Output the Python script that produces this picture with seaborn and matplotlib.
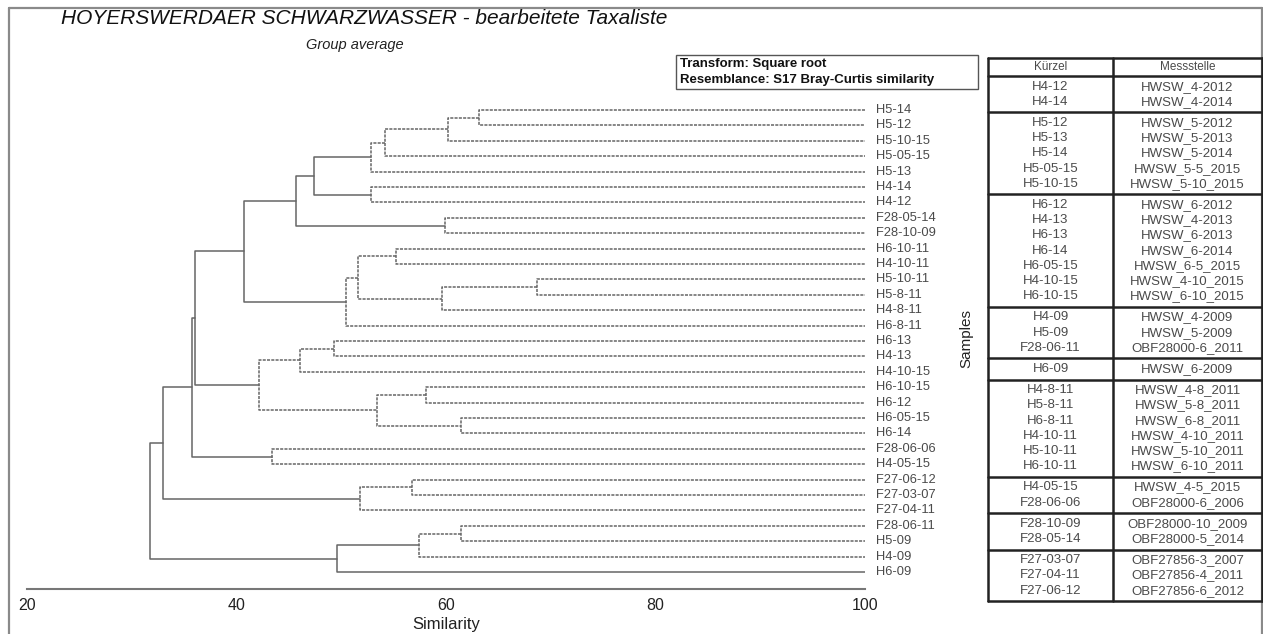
import matplotlib.pyplot as plt
import seaborn as sns
import pandas as pd
from matplotlib.patches import Rectangle

W, H = 1263, 634
LINE_COLOR = '#666666'
TEXT_COLOR = '#4a4a4a'

LEAVES = ['H5-14', 'H5-12', 'H5-10-15', 'H5-05-15', 'H5-13', 'H4-14', 'H4-12',
          'F28-05-14', 'F28-10-09', 'H6-10-11', 'H4-10-11', 'H5-10-11', 'H5-8-11',
          'H4-8-11', 'H6-8-11', 'H6-13', 'H4-13', 'H4-10-15', 'H6-10-15', 'H6-12',
          'H6-05-15', 'H6-14', 'F28-06-06', 'H4-05-15', 'F27-06-12', 'F27-03-07',
          'F27-04-11', 'F28-06-11', 'H5-09', 'H4-09', 'H6-09']

# merges: (child a, child b, similarity, solid?) - int = earlier merge index
MERGES = [
    ('H5-14', 'H5-12', 63.2, False),       # 0
    (0, 'H5-10-15', 60.2, False),          # 1
    (1, 'H5-05-15', 54.2, False),          # 2
    (2, 'H5-13', 52.9, False),             # 3
    ('H4-14', 'H4-12', 52.9, False),       # 4
    (3, 4, 47.4, True),                    # 5
    ('F28-05-14', 'F28-10-09', 59.9, False),  # 6
    (5, 6, 45.7, True),                    # 7
    ('H6-10-11', 'H4-10-11', 55.2, False),  # 8
    ('H5-10-11', 'H5-8-11', 68.7, False),  # 9
    (9, 'H4-8-11', 59.6, False),           # 10
    (8, 10, 51.6, False),                  # 11
    (11, 'H6-8-11', 50.5, False),          # 12
    (7, 12, 40.7, True),                   # 13
    ('H6-13', 'H4-13', 49.3, False),       # 14
    (14, 'H4-10-15', 46.1, False),         # 15
    ('H6-10-15', 'H6-12', 58.1, False),    # 16
    ('H6-05-15', 'H6-14', 61.4, False),    # 17
    (16, 17, 53.4, False),                 # 18
    (15, 18, 42.2, False),                 # 19
    (13, 19, 36.1, True),                  # 20
    ('F28-06-06', 'H4-05-15', 43.4, False),  # 21
    (20, 21, 35.8, True),                  # 22
    ('F27-06-12', 'F27-03-07', 56.8, False),  # 23
    (23, 'F27-04-11', 51.8, False),        # 24
    (22, 24, 33.0, True),                  # 25
    ('F28-06-11', 'H5-09', 61.4, False),   # 26
    (26, 'H4-09', 57.4, False),            # 27
    (27, 'H6-09', 49.6, True),             # 28
    (25, 28, 31.8, True),                  # 29
]

X_TICKS = [20, 40, 60, 80, 100]

TABLE_KUERZEL = [
    ['H4-12', 'H4-14'],
    ['H5-12', 'H5-13', 'H5-14', 'H5-05-15', 'H5-10-15'],
    ['H6-12', 'H4-13', 'H6-13', 'H6-14', 'H6-05-15', 'H4-10-15', 'H6-10-15'],
    ['H4-09', 'H5-09', 'F28-06-11'],
    ['H6-09'],
    ['H4-8-11', 'H5-8-11', 'H6-8-11', 'H4-10-11', 'H5-10-11', 'H6-10-11'],
    ['H4-05-15', 'F28-06-06'],
    ['F28-10-09', 'F28-05-14'],
    ['F27-03-07', 'F27-04-11', 'F27-06-12'],
]
TABLE_MESSSTELLE = [
    ['HWSW_4-2012', 'HWSW_4-2014'],
    ['HWSW_5-2012', 'HWSW_5-2013', 'HWSW_5-2014', 'HWSW_5-5_2015', 'HWSW_5-10_2015'],
    ['HWSW_6-2012', 'HWSW_4-2013', 'HWSW_6-2013', 'HWSW_6-2014', 'HWSW_6-5_2015',
     'HWSW_4-10_2015', 'HWSW_6-10_2015'],
    ['HWSW_4-2009', 'HWSW_5-2009', 'OBF28000-6_2011'],
    ['HWSW_6-2009'],
    ['HWSW_4-8_2011', 'HWSW_5-8_2011', 'HWSW_6-8_2011', 'HWSW_4-10_2011',
     'HWSW_5-10_2011', 'HWSW_6-10_2011'],
    ['HWSW_4-5_2015', 'OBF28000-6_2006'],
    ['OBF28000-10_2009', 'OBF28000-5_2014'],
    ['OBF27856-3_2007', 'OBF27856-4_2011', 'OBF27856-6_2012'],
]

sns.set_style('white')
plt.rcParams['font.family'] = ['Liberation Sans', 'DejaVu Sans']


def build_segments():
    """One U-shaped path per merge, leaves sit at similarity 100."""
    leaf_pos = {name: (100.0, float(i)) for i, name in enumerate(LEAVES)}
    node_pos = []
    rows = []

    def get(c):
        return node_pos[c] if isinstance(c, int) else leaf_pos[c]

    for k, (a, b, sim, solid) in enumerate(MERGES):
        xa, ya = get(a)
        xb, yb = get(b)
        kind = 'solid' if solid else 'dashed'
        for px, py in [(xa, ya), (sim, ya), (sim, yb), (xb, yb)]:
            rows.append({'seg': k, 'x': px, 'y': py, 'kind': kind})
        node_pos.append((sim, (ya + yb) / 2))
    return pd.DataFrame(rows)


fig = plt.figure(figsize=(W / 100, H / 100), dpi=100)

# dendrogram axes, in pixel geometry of the reference
x0, x1 = 26.7, 865.0
y_top, y_axis = 100.0, 589.0
ax = fig.add_axes([x0 / W, 1 - y_axis / H, (x1 - x0) / W, (y_axis - y_top) / H])
ax.patch.set_alpha(0)

df = build_segments()
sns.lineplot(data=df, x='x', y='y', units='seg', style='kind',
             dashes={'solid': '', 'dashed': (2.0, 0.8)}, estimator=None,
             sort=False, color=LINE_COLOR, linewidth=1.1, legend=False, ax=ax)

ax.set_xlim(20, 100)
ax.set_ylim(31.1, -0.65)
ax.set_xticks(X_TICKS)
ax.set_yticks([])
ax.set_xlabel('')
ax.set_ylabel('')
for side in ('top', 'right', 'left'):
    ax.spines[side].set_visible(False)
ax.spines['bottom'].set_color('#777777')
ax.spines['bottom'].set_linewidth(1.5)
ax.tick_params(axis='x', direction='out', length=5, width=1.3, color='#777777',
               labelsize=11.5, labelcolor='#222222', pad=1.5)

for i, name in enumerate(LEAVES):
    ax.text(101.05, i, name, va='center', ha='left', fontsize=9.3,
            color=TEXT_COLOR, clip_on=False)

# overlay axes in pixel coordinates for frame, titles, box and table
ov = fig.add_axes([0, 0, 1, 1])
ov.set_xlim(0, W)
ov.set_ylim(H, 0)
ov.axis('off')
ov.patch.set_alpha(0)

frame_kw = dict(color='#8a8a8a', linewidth=1.6)
ov.plot([9, 1262], [8, 8], **frame_kw)
ov.plot([9, 9], [8, H], **frame_kw)
ov.plot([1262, 1262], [8, H], **frame_kw)

ov.text(364, 19, 'HOYERSWERDAER SCHWARZWASSER - bearbeitete Taxaliste',
        ha='center', va='center', fontsize=15, style='italic', color='#111111')
ov.text(355, 45, 'Group average', ha='center', va='center', fontsize=10.5,
        style='italic', color='#222222')

ov.add_patch(Rectangle((676, 55), 302, 34, fill=False, edgecolor='#555555',
                       linewidth=1.0))
box_font = ['Liberation Sans Narrow', 'Liberation Sans', 'DejaVu Sans']
ov.text(680, 64, 'Transform: Square root', ha='left', va='center', fontsize=9.5,
        fontweight='bold', family=box_font, color='#111111')
ov.text(680, 80, 'Resemblance: S17 Bray-Curtis similarity', ha='left',
        va='center', fontsize=9.5, fontweight='bold', family=box_font,
        color='#111111')

ov.text((x0 + x1) / 2, 624, 'Similarity', ha='center', va='center', fontsize=12,
        color='#222222')
ov.text(966, 338, 'Samples', ha='center', va='center', fontsize=11,
        rotation=90, color='#222222')

# table
t_left, t_mid, t_right = 988, 1113, 1262
t_top, head_bot = 58, 76
row_h, pad = 15.2, 6
tbl_kw = dict(color='#222222', linewidth=1.8)
c1, c2 = (t_left + t_mid) / 2, (t_mid + t_right) / 2
ov.text(c1, (t_top + head_bot) / 2, 'Kürzel', ha='center', va='center',
        fontsize=8.5, color=TEXT_COLOR)
ov.text(c2, (t_top + head_bot) / 2, 'Messstelle', ha='center', va='center',
        fontsize=8.5, color=TEXT_COLOR)
ov.plot([t_left, t_right], [t_top, t_top], **tbl_kw)
ov.plot([t_left, t_right], [head_bot, head_bot], **tbl_kw)

y = head_bot
for kz, ms in zip(TABLE_KUERZEL, TABLE_MESSSTELLE):
    g_h = len(kz) * row_h + pad
    for j, (a, b) in enumerate(zip(kz, ms)):
        ty = y + pad / 2 + (j + 0.5) * row_h
        ov.text(c1, ty, a, ha='center', va='center', fontsize=9.5, color=TEXT_COLOR)
        ov.text(c2, ty, b, ha='center', va='center', fontsize=9.5, color=TEXT_COLOR)
    y += g_h
    ov.plot([t_left, t_right], [y, y], **tbl_kw)
ov.plot([t_left, t_left], [t_top, y], **tbl_kw)
ov.plot([t_mid, t_mid], [t_top, y], **tbl_kw)
ov.plot([t_right, t_right], [t_top, y], **tbl_kw)

fig.savefig('out.png', dpi=100)
